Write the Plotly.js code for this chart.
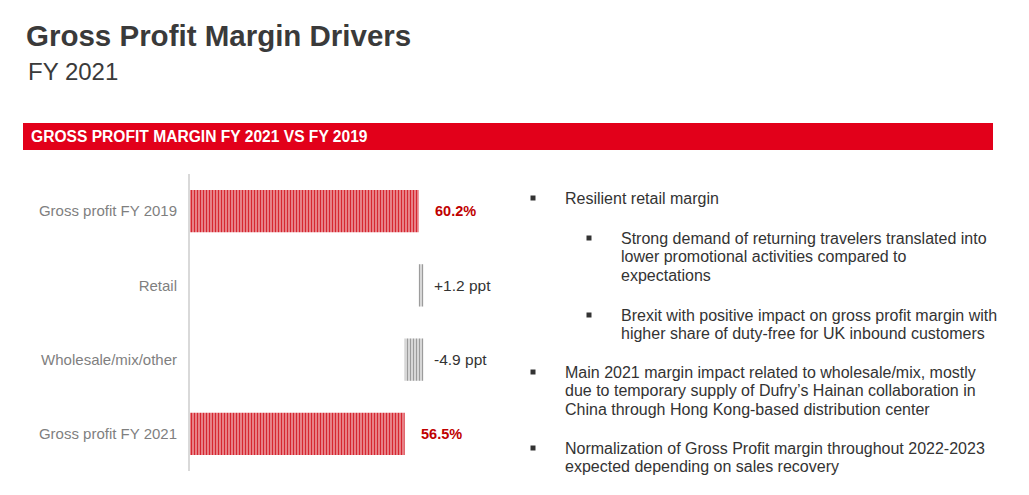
<!DOCTYPE html>
<html>
<head>
<meta charset="utf-8">
<script src="https://cdn.plot.ly/plotly-3.0.1.min.js"></script>
<style>
  html, body { margin: 0; padding: 0; background: #ffffff; }
  #chart { width: 1029px; height: 495px; }
</style>
</head>
<body>
<div id="chart"></div>
<script>
// ---- data ----
const categories = ['Gross profit FY 2019', 'Retail', 'Wholesale/mix/other', 'Gross profit FY 2021'];
const values = [60.2, 1.2, -4.9, 56.5];
const kinds = ['total', 'delta', 'delta', 'total'];
const valueLabels = ['60.2%', '+1.2 ppt', '-4.9 ppt', '56.5%'];

const bulletLines = [
  {level: 0, lines: ['Resilient retail margin']},
  {level: 1, lines: ['Strong demand of returning travelers translated into', 'lower promotional activities compared to', 'expectations']},
  {level: 1, lines: ['Brexit with positive impact on gross profit margin with', 'higher share of duty-free for UK inbound customers']},
  {level: 0, lines: ['Main 2021 margin impact related to wholesale/mix, mostly', 'due to temporary supply of Dufry\u2019s Hainan collaboration in', 'China through Hong Kong-based distribution center']},
  {level: 0, lines: ['Normalization of Gross Profit margin throughout 2022-2023', 'expected depending on sales recovery']}
];

// ---- layout helpers (page pixels -> paper fractions, margins are 0) ----
const W = 1029, H = 495;
const px = x => x / W;
const py = y => 1 - y / H;
const FONT = 'Liberation Sans, Arial, sans-serif';

// waterfall bases
const bases = [];
let running = 0;
values.forEach((v, i) => {
  if (kinds[i] === 'total') { bases.push(0); running = v; }
  else { bases.push(running); running += v; }
});

const idxTotal = kinds.map((k, i) => k === 'total' ? i : -1).filter(i => i >= 0);
const idxDelta = kinds.map((k, i) => k === 'delta' ? i : -1).filter(i => i >= 0);

const totalTrace = {
  type: 'bar', orientation: 'h',
  y: idxTotal.map(i => categories[i]),
  x: idxTotal.map(i => values[i]),
  base: idxTotal.map(i => bases[i]),
  width: 0.57,
  marker: {
    color: '#F4C4C6',
    line: {width: 0},
    pattern: {shape: '|', fgcolor: '#D62630', bgcolor: '#F4C4C6', size: 3, solidity: 0.62, fillmode: 'replace'}
  },
  hoverinfo: 'skip', showlegend: false
};
const deltaTrace = {
  type: 'bar', orientation: 'h',
  y: idxDelta.map(i => categories[i]),
  x: idxDelta.map(i => values[i]),
  base: idxDelta.map(i => bases[i]),
  width: 0.57,
  marker: {
    color: '#ffffff',
    line: {width: 0},
    pattern: {shape: '|', fgcolor: '#9C9C9C', bgcolor: '#ffffff', size: 3, solidity: 0.6, fillmode: 'replace'}
  },
  hoverinfo: 'skip', showlegend: false
};

const annotations = [];
// value labels
values.forEach((v, i) => {
  const end = Math.max(bases[i], bases[i] + v);
  const isTotal = kinds[i] === 'total';
  annotations.push({
    xref: 'x', yref: 'y', x: end, y: categories[i],
    text: isTotal ? '<b>' + valueLabels[i] + '</b>' : valueLabels[i],
    showarrow: false, xanchor: 'left', yanchor: 'middle',
    xshift: isTotal ? 14 : 9,
    font: {family: FONT, size: isTotal ? 14.5 : 15.5, color: isTotal ? '#C00000' : '#333333'}
  });
});

// subtitle
annotations.push({
  xref: 'paper', yref: 'paper', x: px(26), y: py(71), xanchor: 'left', yanchor: 'middle',
  text: 'FY 2021', showarrow: false,
  font: {family: FONT, size: 24, color: '#3A3A3A'}
});
// banner text
annotations.push({
  xref: 'paper', yref: 'paper', x: px(28.5), y: py(136.5), xanchor: 'left', yanchor: 'middle',
  text: '<b>GROSS PROFIT MARGIN FY 2021 VS FY 2019</b>', showarrow: false,
  font: {family: FONT, size: 15.6, color: '#ffffff'}
});

// bullet text
const shapes = [];
shapes.push({type: 'rect', xref: 'paper', yref: 'paper', x0: px(23), x1: px(993), y0: py(150), y1: py(123),
  fillcolor: '#E2001A', line: {width: 0}, layer: 'below'});

const blockStarts = [198, 238, 315, 372, 448];
const lineGap = 18.7;
bulletLines.forEach((b, bi) => {
  const textX = b.level === 0 ? 563 : 619;
  const bulletX = b.level === 0 ? 533 : 589;
  const y0 = blockStarts[bi];
  shapes.push({type: 'rect', xref: 'paper', yref: 'paper',
    x0: px(bulletX - 2.5), x1: px(bulletX + 2.5), y0: py(y0 + 2.5), y1: py(y0 - 2.5),
    fillcolor: '#333333', line: {width: 0}});
  b.lines.forEach((ln, li) => {
    annotations.push({
      xref: 'paper', yref: 'paper', x: px(textX), y: py(y0 + li * lineGap),
      xanchor: 'left', yanchor: 'middle', text: ln, showarrow: false,
      font: {family: FONT, size: 16, color: '#333333'}
    });
  });
});

const xScale = 3.8; // px per ppt
const layout = {
  width: W, height: H,
  margin: {l: 0, r: 0, t: 0, b: 0},
  paper_bgcolor: '#ffffff', plot_bgcolor: '#ffffff',
  title: {
    text: '<b>Gross Profit Margin Drivers</b>',
    font: {family: FONT, size: 29.5, color: '#3A3A3A'},
    x: px(26), xref: 'paper', xanchor: 'left',
    y: py(35.5), yref: 'paper', yanchor: 'middle'
  },
  barmode: 'overlay',
  xaxis: {
    domain: [px(190), px(500)],
    range: [0, (500 - 190) / xScale],
    showgrid: false, zeroline: false, showticklabels: false, showline: false, ticks: '',
    fixedrange: true
  },
  yaxis: {
    domain: [py(471), py(174)],
    type: 'category', categoryorder: 'array', categoryarray: categories,
    autorange: 'reversed',
    showgrid: false, zeroline: false,
    showline: true, linecolor: '#D9D9D9', linewidth: 2,
    ticks: '', ticklabelstandoff: 8, automargin: false,
    tickfont: {family: FONT, size: 15, color: '#7F7F7F'},
    fixedrange: true
  },
  annotations: annotations,
  shapes: shapes,
  showlegend: false
};

Plotly.newPlot('chart', [totalTrace, deltaTrace], layout, {displayModeBar: false, staticPlot: true});
</script>
</body>
</html>
